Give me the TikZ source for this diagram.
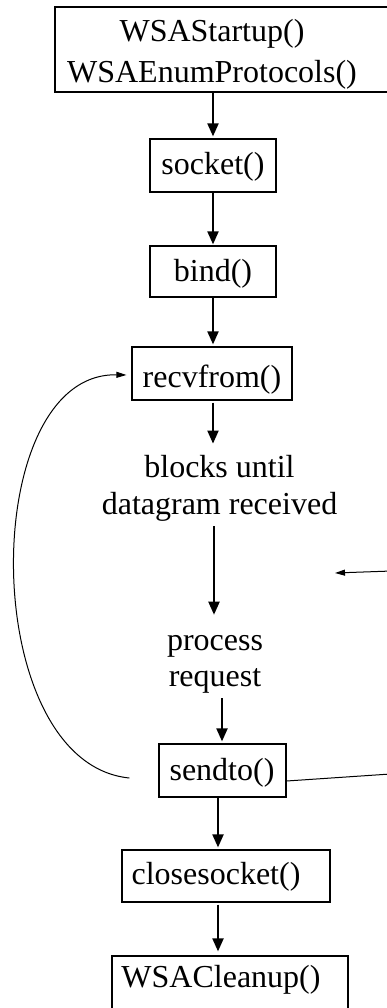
\documentclass[tikz,border=0pt]{standalone}
\usepackage{fontspec}
\setmainfont{Liberation Serif}
\usetikzlibrary{arrows.meta}

\tikzset{
  box/.style={draw, line width=1.2pt, inner sep=0pt},
  lbl/.style={inner sep=0pt, anchor=base, font=\fontsize{32}{37}\selectfont},
  flow/.style={line width=2pt, -{Triangle[length=13pt,width=11pt]}},
  loopback/.style={line width=1pt, -{Triangle[length=10pt,width=6pt]}},
  wire/.style={line width=1pt}
}

\begin{document}
\begin{tikzpicture}[x=1pt,y=-1pt]
\useasboundingbox (0,0) rectangle (387,1008);
\clip (0,0) rectangle (387,1008);

% boxes
\node[box, minimum width=345pt, minimum height=85pt] (startbox) at (227.5,49.5) {};
\node[box, minimum width=126pt, minimum height=53pt] (socketbox) at (213,165.5) {};
\node[box, minimum width=126pt, minimum height=51pt] (bindbox) at (213,271.5) {};
\node[box, minimum width=160pt, minimum height=53pt] (recvbox) at (212,373.5) {};
\node[box, minimum width=127pt, minimum height=53pt] (sendbox) at (222.5,770.5) {};
\node[box, minimum width=208pt, minimum height=52pt] (closebox) at (226,876) {};
\node[box, minimum width=236pt, minimum height=64pt] (cleanbox) at (230,988) {};

% texts (multi-line nodes are placed by their last baseline)
\node[lbl, align=center, font=\fontsize{32}{41.5}\selectfont] (startup) at (212,83) {WSAStartup()\\WSAEnumProtocols()};
\node[lbl] (socket) at (213,175) {socket()};
\node[lbl] (bind) at (213,281) {bind()};
\node[lbl] (recv) at (212,387) {recvfrom()};
\node[lbl, align=center] (blocks) at (219.5,514) {blocks until\\datagram received};
\node[lbl, align=center, font=\fontsize{32}{36}\selectfont] (process) at (215,686) {process\\request};
\node[lbl] (send) at (222,780) {sendto()};
\node[lbl] (close) at (216,884) {closesocket()};
\node[lbl] (cleanup) at (221,987) {WSACleanup()};

% main flow
\draw[flow] (213,0 |- startbox.south) -- ([yshift=2pt]213,0 |- socketbox.north);
\draw[flow] (213,0 |- socketbox.south) -- ([yshift=1pt]213,0 |- bindbox.north);
\draw[flow] (213,0 |- bindbox.south) -- ([yshift=2pt]213,0 |- recvbox.north);
\draw[flow] ([yshift=-2pt]213,0 |- recvbox.south) -- ([yshift=11pt]213,0 |- blocks.north);
\draw[flow] ([yshift=-5pt]214,0 |- blocks.south) -- ([yshift=20pt]214,0 |- process.north);
\draw[flow] ([yshift=-5pt]222,0 |- process.south) -- ([yshift=2pt]222,0 |- sendbox.north);
\draw[flow] (218,0 |- sendbox.south) -- ([yshift=2pt]218,0 |- closebox.north);
\draw[flow] ([yshift=-2pt]218,0 |- closebox.south) -- ([yshift=4pt]218,0 |- cleanbox.north);

% loop back from sendto() to recvfrom()
\coordinate (loopstart) at ([xshift=-29pt,yshift=-7.5pt]sendbox.west);
\draw[loopback] (loopstart) .. controls (-23,763) and (-23,372) .. ([xshift=-5pt,yshift=-1.5pt]recvbox.west);

% lines leaving and entering on the right
\coordinate (outright) at (420,772);
\coordinate (inright) at (420,570);
\draw[wire] ([yshift=-10.5pt]sendbox.east) -- (outright);
\draw[loopback] (inright) -- (335,573);
\end{tikzpicture}
\end{document}
